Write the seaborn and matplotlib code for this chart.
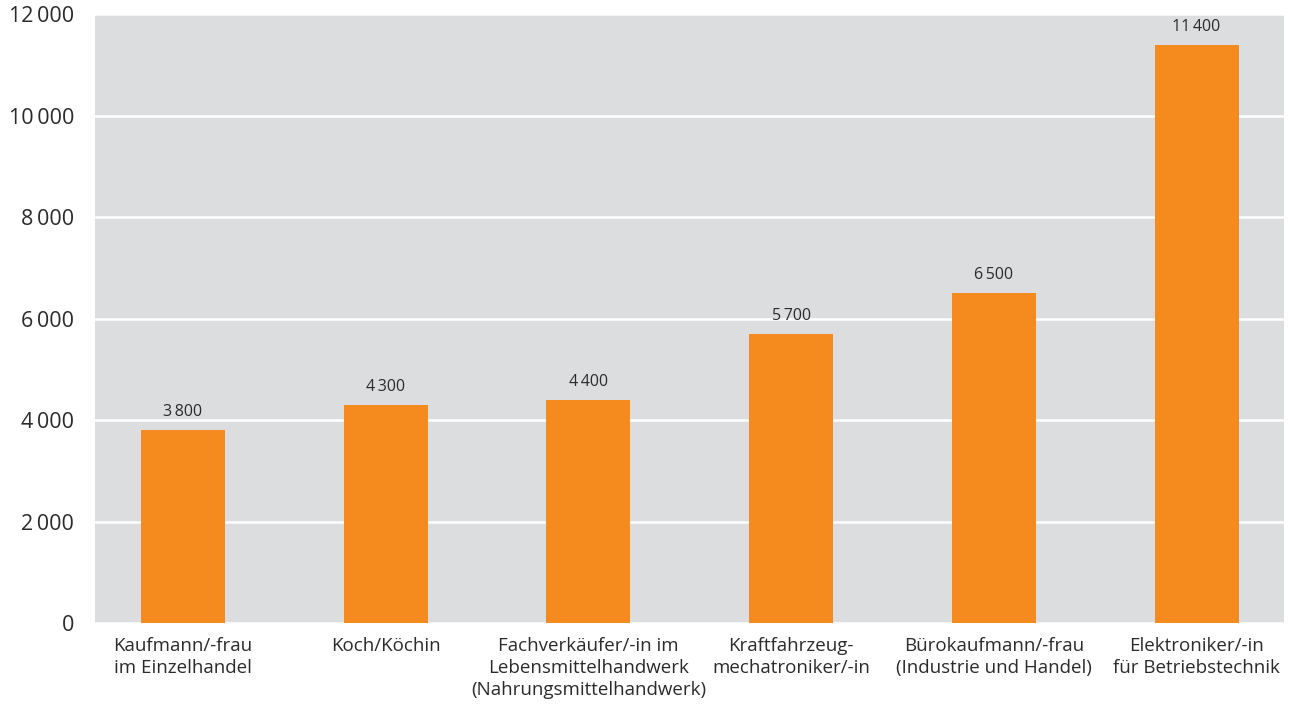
import numpy as np
import pandas as pd
import seaborn as sns
import matplotlib.pyplot as plt

berufe = [
    "Kaufmann/-frau\nim Einzelhandel",
    "Koch/Köchin",
    "Fachverkäufer/-in im\nLebensmittelhandwerk\n(Nahrungsmittelhandwerk)",
    "Kraftfahrzeug-\nmechatroniker/-in",
    "Bürokaufmann/-frau\n(Industrie und Handel)",
    "Elektroniker/-in\nfür Betriebstechnik",
]
werte = [3800, 4300, 4400, 5700, 6500, 11400]
yticks = [0, 2000, 4000, 6000, 8000, 10000, 12000]

df = pd.DataFrame({"beruf": berufe, "wert": werte})

sns.set_style("white")
plt.rcParams["font.family"] = ["Open Sans", "DejaVu Sans"]

def fmt(v):
    # thin space as thousands separator
    return f"{v:,}".replace(",", "\u2009")

fig = plt.figure(figsize=(13.06, 7.10), dpi=100)
ax = fig.add_axes([0.0727, 0.1225, 0.9103, 0.8577])
ax.set_facecolor("#dcdddf")

sns.barplot(data=df, x="beruf", y="wert", color="#f58a1f", saturation=1,
            width=0.414, linewidth=0, ax=ax, zorder=3)

ax.set_xlim(-0.434, 5.43)
ax.set_ylim(0, 12000)
ax.set_yticks(yticks)
ax.set_yticklabels([fmt(v) for v in yticks], fontsize=15.5, color="#2b2b2b")
ax.yaxis.grid(True, color="white", linewidth=1.8, zorder=1)
ax.set_axisbelow(True)
ax.tick_params(axis="both", length=0)
ax.tick_params(axis="y", pad=15)
ax.tick_params(axis="x", pad=10)
plt.setp(ax.get_xticklabels(), fontsize=13.5, color="#2b2b2b", linespacing=1.3)
ax.set_xlabel("")
ax.set_ylabel("")
for s in ax.spines.values():
    s.set_visible(False)

for i, v in enumerate(werte):
    ax.annotate(fmt(v), (i, v), xytext=(0, 7), textcoords="offset points",
                ha="center", va="bottom", fontsize=11.5, color="#2b2b2b")

fig.savefig("out.png", dpi=100)
